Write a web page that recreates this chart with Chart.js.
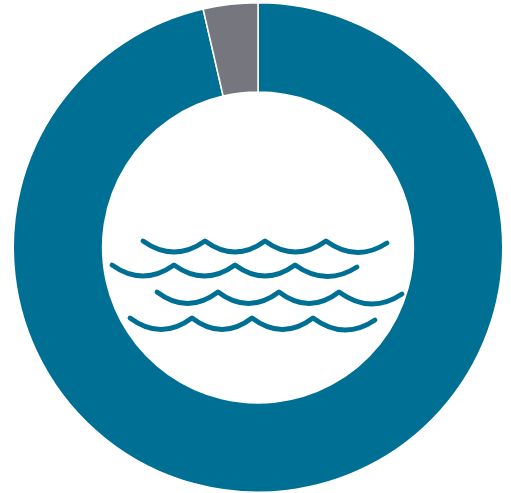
<!DOCTYPE html>
<html>
<head>
<meta charset="utf-8">
<style>html,body{margin:0;padding:0;background:#fff;overflow:hidden}canvas{display:block}</style>
<script src="https://cdn.jsdelivr.net/npm/chart.js@4"></script>
</head>
<body>
<div style="width:511px;height:493px"><canvas id="c" width="511" height="493"></canvas></div>
<script>
const categories = ['Main share', 'Other share'];
const values = [96.4, 3.6];
const colors = ['#006f94', '#76767e'];

// Decorative water icon in the middle of the ring (not data)
const waveIcon = {
  id: 'waveIcon',
  afterDraw(chart) {
    const rows = [
      {xs:[143,205,265,326,387], y:241, endY:243, depth:11},
      {xs:[112,174,235,295,357], y:265, endY:267, depth:11},
      {xs:[157,218,279,339,402], y:292, endY:294, depth:11.5},
      {xs:[130,192,252,313,375], y:318, endY:320, depth:11.5}
    ];
    const c = chart.ctx;
    c.save();
    c.strokeStyle = colors[0];
    c.lineWidth = 4.8;
    c.lineCap = 'round';
    c.lineJoin = 'round';
    rows.forEach(r => {
      c.beginPath();
      c.moveTo(r.xs[0], r.y);
      for (let i = 1; i < r.xs.length; i++) {
        const x0 = r.xs[i-1], x1 = r.xs[i];
        const y1 = i === r.xs.length - 1 ? r.endY : r.y;
        c.quadraticCurveTo((x0 + x1) / 2, r.y + r.depth * 2, x1, y1);
      }
      c.stroke();
    });
    c.restore();
  }
};

new Chart(document.getElementById('c'), {
  type: 'doughnut',
  data: {
    labels: categories,
    datasets: [{
      data: values,
      backgroundColor: colors,
      borderColor: '#ffffff',
      borderWidth: 1.5,
      hoverOffset: 0
    }]
  },
  options: {
    responsive: false,
    animation: false,
    cutout: '63.5%',
    layout: {padding: {left: 12, right: 7, top: 2, bottom: -1}},
    plugins: {legend: {display: false}, tooltip: {enabled: false}}
  },
  plugins: [waveIcon]
});
</script>
</body>
</html>
